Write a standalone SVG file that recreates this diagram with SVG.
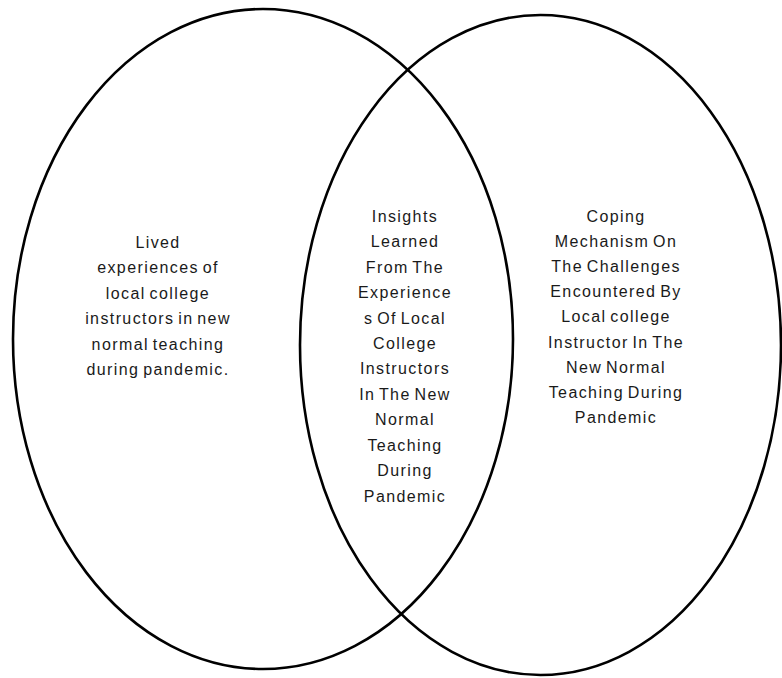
<svg xmlns="http://www.w3.org/2000/svg" width="782" height="678" viewBox="0 0 782 678">
<style>
.c{fill:none;stroke:#000;stroke-width:2.6}
.t{font-family:"Liberation Sans",Arial,sans-serif;font-size:16px;fill:#1a1a1a;text-anchor:middle;letter-spacing:1.4px;word-spacing:-2px}
</style>
<rect width="782" height="678" fill="#fff"/>
<g id="left-circle">
<ellipse class="c" cx="263" cy="339" rx="250" ry="330"/>
<text class="t" x="158" y="248">Lived</text>
<text class="t" x="158" y="273">experiences of</text>
<text class="t" x="158" y="299">local college</text>
<text class="t" x="158" y="324">instructors in new</text>
<text class="t" x="158" y="350">normal teaching</text>
<text class="t" x="158" y="375">during pandemic.</text>
</g>
<g id="right-circle">
<ellipse class="c" cx="540.5" cy="345" rx="240.5" ry="330"/>
<text class="t" x="616" y="222">Coping</text>
<text class="t" x="616" y="247">Mechanism On</text>
<text class="t" x="616" y="272">The Challenges</text>
<text class="t" x="616" y="297">Encountered By</text>
<text class="t" x="616" y="322">Local college</text>
<text class="t" x="616" y="348">Instructor In The</text>
<text class="t" x="616" y="373">New Normal</text>
<text class="t" x="616" y="398">Teaching During</text>
<text class="t" x="616" y="423">Pandemic</text>
</g>
<g id="intersection">
<text class="t" x="405" y="222">Insights</text>
<text class="t" x="405" y="247">Learned</text>
<text class="t" x="405" y="273">From The</text>
<text class="t" x="405" y="298">Experience</text>
<text class="t" x="405" y="324">s Of Local</text>
<text class="t" x="405" y="349">College</text>
<text class="t" x="405" y="374">Instructors</text>
<text class="t" x="405" y="400">In The New</text>
<text class="t" x="405" y="425">Normal</text>
<text class="t" x="405" y="451">Teaching</text>
<text class="t" x="405" y="476">During</text>
<text class="t" x="405" y="502">Pandemic</text>
</g>
<g id="connectors"></g>
</svg>
